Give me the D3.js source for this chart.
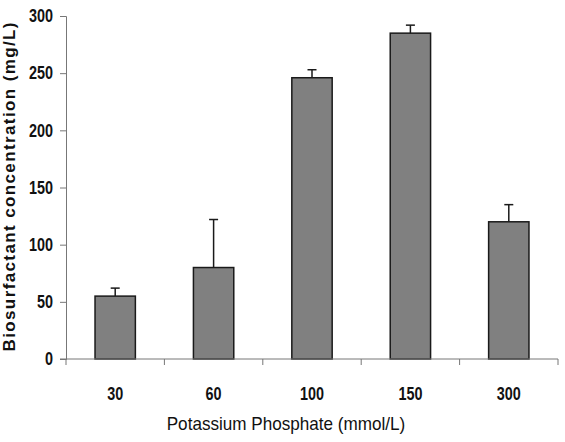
<!DOCTYPE html>
<html>
<head>
<meta charset="utf-8">
<script src="https://cdn.jsdelivr.net/npm/d3@7"></script>
<style>
  body { margin: 0; background: #fff; }
  svg { display: block; }
  text { font-family: "Liberation Sans", Arial, sans-serif; }
</style>
</head>
<body>
<div id="chart"></div>
<script>
// data
const categories = ['30', '60', '100', '150', '300'];
const values = [55, 80, 246, 285, 120];
const errors = [7, 42, 7, 7, 15];
const yTicks = [0, 50, 100, 150, 200, 250, 300];

const width = 565, height = 442;
const margin = { top: 16, right: 7, bottom: 83, left: 66 };
const w = width - margin.left - margin.right;
const h = height - margin.top - margin.bottom;

// squeeze glyphs to fake a condensed face
function condense(sel, k) {
    sel.each(function () {
        const len = this.getComputedTextLength();
        d3.select(this).attr('textLength', len * k).attr('lengthAdjust', 'spacingAndGlyphs');
    });
}

const svg = d3.select('#chart').append('svg')
    .attr('width', width).attr('height', height);

const g = svg.append('g')
    .attr('transform', `translate(${margin.left},${margin.top})`);

const x = d3.scaleBand().domain(categories).range([0, w]).paddingInner(0.59).paddingOuter(0.295);
const xb = d3.scaleBand().domain(categories).range([0, w]);
const y = d3.scaleLinear().domain([0, 300]).range([h, 0]);

// bars
g.selectAll('rect.bar')
    .data(values)
    .enter().append('rect')
    .attr('class', 'bar')
    .attr('x', (d, i) => x(categories[i]))
    .attr('y', d => y(d))
    .attr('width', x.bandwidth())
    .attr('height', d => h - y(d))
    .attr('fill', '#808080')
    .attr('stroke', '#1a1a1a')
    .attr('stroke-width', 1.5);

// error bars (upper only)
const eg = g.append('g').attr('stroke', '#1a1a1a').attr('stroke-width', 1.5);
values.forEach((v, i) => {
    const cx = x(categories[i]) + x.bandwidth() / 2;
    eg.append('line').attr('x1', cx).attr('x2', cx).attr('y1', y(v)).attr('y2', y(v + errors[i]));
    eg.append('line').attr('x1', cx - 4.5).attr('x2', cx + 4.5).attr('y1', y(v + errors[i])).attr('y2', y(v + errors[i]));
});

// y axis
const gy = g.append('g')
    .call(d3.axisLeft(y).tickValues(yTicks).tickSize(6).tickPadding(7));
gy.select('.domain').attr('stroke', '#777');
gy.selectAll('.tick line').attr('stroke', '#777');
gy.selectAll('.tick text')
    .attr('font-family', null)
    .attr('font-size', 18).attr('font-weight', 'bold').attr('fill', '#111')
    .call(condense, 0.8);

// x axis: ticks at category boundaries
const gx = g.append('g').attr('transform', `translate(0,${h})`);
gx.append('line').attr('x1', -6).attr('x2', w).attr('stroke', '#777');
const bounds = categories.map(c => xb(c)).concat([w]);
gx.selectAll('line.tk').data(bounds).enter().append('line')
    .attr('class', 'tk')
    .attr('x1', d => d).attr('x2', d => d)
    .attr('y1', 0).attr('y2', 6)
    .attr('stroke', '#777');
gx.selectAll('text').data(categories).enter().append('text')
    .attr('x', d => xb(d) + xb.bandwidth() / 2)
    .attr('y', 41)
    .attr('text-anchor', 'middle')
    .attr('font-size', 18).attr('font-weight', 'bold').attr('fill', '#111')
    .text(d => d)
    .call(condense, 0.8);

// axis titles
svg.append('text')
    .attr('x', 286).attr('y', 430)
    .attr('text-anchor', 'middle')
    .attr('font-size', 19).attr('fill', '#111')
    .text('Potassium Phosphate (mmol/L)')
    .call(condense, 0.9);

svg.append('text')
    .attr('transform', 'translate(15,187) rotate(-90)')
    .attr('text-anchor', 'middle')
    .attr('font-size', 17).attr('font-weight', 'bold').attr('fill', '#111')
    .attr('textLength', 329).attr('lengthAdjust', 'spacing')
    .text('Biosurfactant concentration (mg/L)');
</script>
</body>
</html>
